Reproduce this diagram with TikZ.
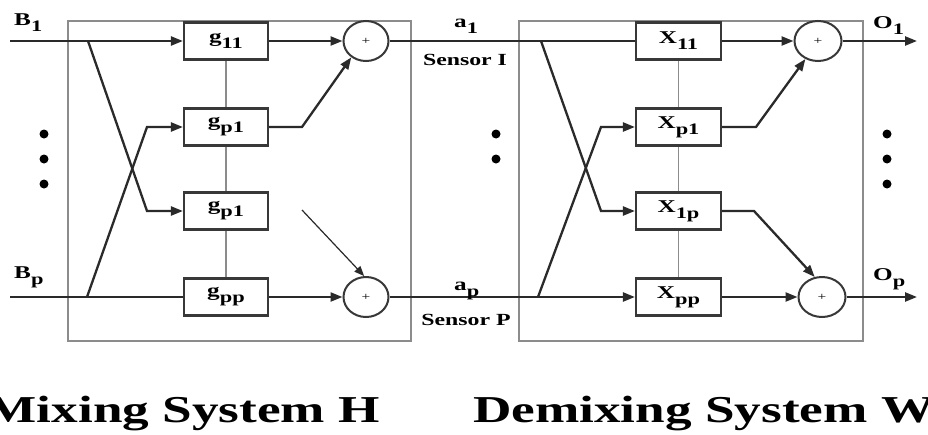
\documentclass[tikz,border=0pt]{standalone}
\usepackage{fontspec}
\setmainfont{Liberation Serif}[FakeStretch=1.4]
\usetikzlibrary{arrows.meta,shapes.geometric}
\definecolor{wirecol}{HTML}{2A2A2A}
\definecolor{boxcol}{HTML}{383838}
\definecolor{framecol}{HTML}{8C8C8C}
\newcommand\sublab[1]{\raisebox{-6pt}{\fontsize{16}{16}\selectfont #1}}
\begin{document}
\begin{tikzpicture}[x=1pt,y=-1pt,
  wire/.style={draw=wirecol, line width=2.3pt},
  arr/.style={wire, -{Triangle[length=12pt,width=9pt]}},
  thinarr/.style={draw=wirecol, line width=1.2pt, -{Triangle[length=10pt,width=8pt]}},
  link/.style={draw=framecol, line width=1.6pt},
  frame/.style={draw=framecol, line width=1.8pt, inner sep=0pt},
  blk/.style={draw=boxcol, line width=2.2pt, fill=white, minimum width=84pt,
    minimum height=37pt, inner sep=0pt, font=\bfseries\fontsize{18}{18}\selectfont},
  sum/.style={ellipse, draw=boxcol, line width=2pt, fill=white, minimum width=45pt,
    minimum height=40pt, inner sep=0pt, font=\fontsize{11}{11}\selectfont},
  lab/.style={inner sep=0pt, font=\bfseries\fontsize{18}{18}\selectfont},
  ttl/.style={inner sep=0pt, font=\bfseries\fontsize{38}{38}\selectfont},
  dot/.style={circle, fill=black, inner sep=0pt, minimum size=9pt}]
\fill[white] (0,0) rectangle (928,434);
\useasboundingbox (0,0) rectangle (928,434);

% frames
\node[frame, minimum width=343pt, minimum height=320pt] (Hbox) at (239.5,181) {};
\node[frame, minimum width=344pt, minimum height=320pt] (Wbox) at (691,181) {};

% ---------- mixing system ----------
\coordinate (inB1) at (10,41);
\coordinate (brB1) at (88,41);
\coordinate (kB1) at (147,211);
\coordinate (inBp) at (10,297);
\coordinate (brBp) at (87,297);
\coordinate (kBp) at (147,127);
\coordinate (kg) at (302,127);
\coordinate (thinS) at (302,210);

\draw[link] (226,41) -- (226,297);
\node[blk] (g11) at (226,41) {g\sublab{11}};
\node[blk] (gp1) at (226,127) {g\sublab{p1}};
\node[blk] (gp1b) at (226,211) {g\sublab{p1}};
\node[blk] (gpp) at (226,297) {g\sublab{pp}};
\node[sum] (s1) at (366,41) {+};
\node[sum] (sp) at (366,297) {+};

\draw[arr] (inB1) -- (g11.west);
\draw[wire] (inBp) -- (gpp.west);
\draw[arr] (brB1) -- (kB1) -- (gp1b.west);
\draw[arr] (brBp) -- (kBp) -- (gp1.west);
\draw[arr] (g11.east) -- (s1.west);
\draw[arr] (gp1.east) -- (kg) -- (s1.228);
\draw[arr] (gpp.east) -- (sp.west);
\draw[thinarr] (thinS) -- (sp.95);

% ---------- demixing system ----------
\coordinate (brA1) at (541,41);
\coordinate (kA1) at (601,211);
\coordinate (brAp) at (538,297);
\coordinate (kAp) at (601,127);
\coordinate (kx1) at (756,127);
\coordinate (kx2) at (754,211);
\coordinate (out1) at (917,41);
\coordinate (outp) at (917,297);

\draw[link] (678.5,41) -- (678.5,297);
\node[blk, minimum width=85pt] (x11) at (678.5,41) {X\sublab{11}};
\node[blk, minimum width=85pt] (xp1) at (678.5,127) {X\sublab{p1}};
\node[blk, minimum width=85pt] (x1p) at (678.5,211) {X\sublab{1p}};
\node[blk, minimum width=85pt] (xpp) at (678.5,297) {X\sublab{pp}};
\node[sum, minimum width=47pt] (t1) at (818,41) {+};
\node[sum, minimum width=47pt] (tp) at (822,297) {+};

\draw[wire] (s1.east) -- (x11.west);
\draw[arr] (sp.east) -- (xpp.west);
\draw[arr] (brA1) -- (kA1) -- (x1p.west);
\draw[arr] (brAp) -- (kAp) -- (xp1.west);
\draw[arr] (x11.east) -- (t1.west);
\draw[arr] (xp1.east) -- (kx1) -- (t1.235);
\draw[arr] (x1p.east) -- (kx2) -- (tp.110);
\draw[arr] (xpp.east) -- (tp.west);
\draw[arr] (t1.east) -- (out1);
\draw[arr] (tp.east) -- (outp);

% ---------- labels ----------
\node[lab, anchor=base west] (lB1) at (14,25) {B\sublab{1}};
\node[lab, anchor=base west] (lBp) at (14,278) {B\sublab{p}};
\node[lab, anchor=base west] (la1) at (454,27) {a\sublab{1}};
\node[lab, anchor=base west] (lap) at (454,290) {a\sublab{p}};
\node[lab, font=\bfseries\fontsize{17}{17}\selectfont] (sI) at (465,60) {Sensor I};
\node[lab, font=\bfseries\fontsize{17}{17}\selectfont] (sP) at (466,320) {Sensor P};
\node[lab, anchor=base west] (lO1) at (873,28) {O\sublab{1}};
\node[lab, anchor=base west] (lOp) at (873,280) {O\sublab{p}};

% dots
\node[dot] (d1) at (44,134) {};
\node[dot] (d2) at (44,159) {};
\node[dot] (d3) at (44,184) {};
\node[dot] (d4) at (496,134) {};
\node[dot] (d5) at (496,159) {};
\node[dot] (d6) at (887,134) {};
\node[dot] (d7) at (887,159) {};
\node[dot] (d8) at (887,184) {};

% titles
\node[ttl, anchor=base east] (tH) at (380,422) {Mixing System H};
\node[ttl, anchor=base west] (tW) at (473,422) {Demixing System W};
\end{tikzpicture}
\end{document}
